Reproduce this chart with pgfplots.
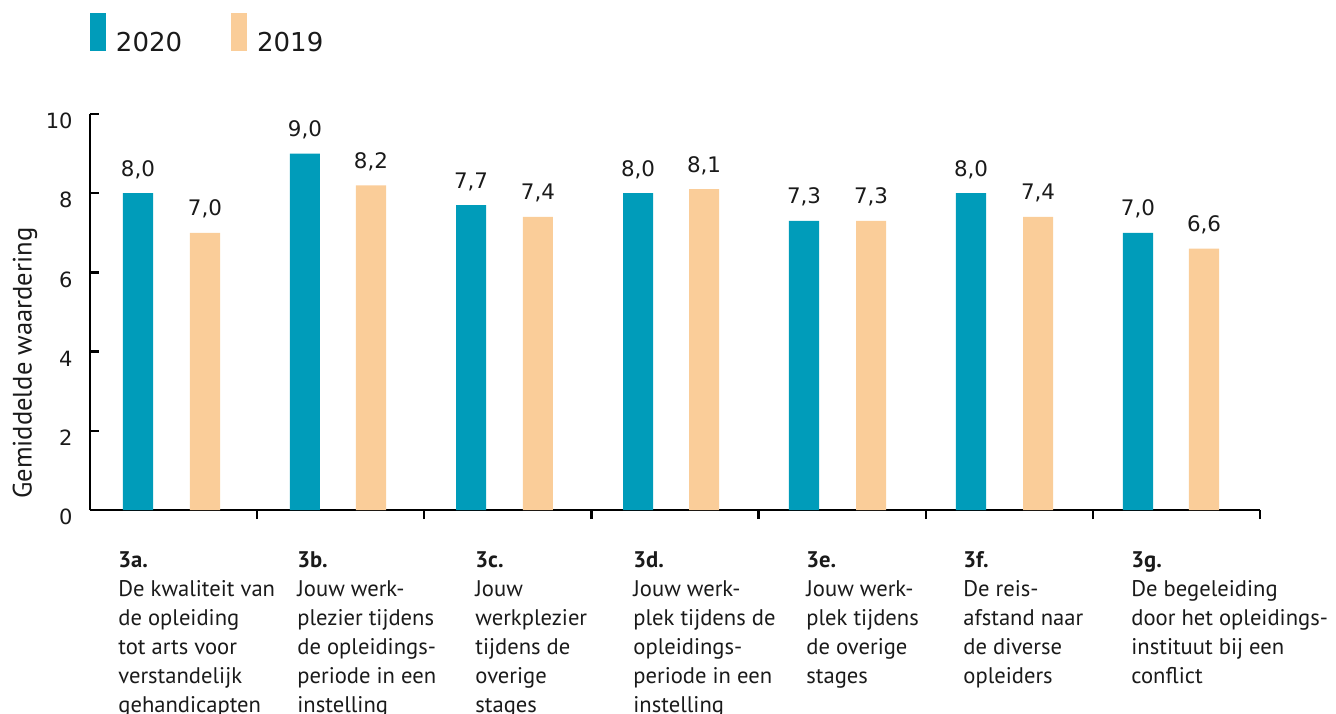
\documentclass[border=0pt]{standalone}
\usepackage{pgfplots}
\pgfplotsset{compat=1.18}
\usepackage{fontspec}
\setmainfont{PT Sans}
\newfontfamily\dejavu{DejaVu Sans}
\definecolor{c20}{RGB}{0,156,186}
\definecolor{c19}{RGB}{250,205,153}
\definecolor{txt}{RGB}{26,26,26}
\begin{document}
\begin{tikzpicture}
\begin{axis}[
  at={(0,0)}, anchor=south west,
  scale only axis, width=585pt, height=198pt,
  xmin=0, xmax=7, ymin=0, ymax=10,
  axis x line=bottom, axis y line=left,
  axis line style={line width=1.2pt, -, black},
  xtick={1,...,7}, xticklabels={},
  ytick={0,2,...,10},
  tick align=inside, major tick length=4.5pt,
  tick style={line width=1.2pt, black},
  /pgf/number format/assume math mode=true,
  yticklabel style={font=\dejavu\fontsize{10.5}{12}\selectfont, text=txt, inner sep=0pt, xshift=-8.5pt, yshift=-3.5pt},
  ylabel={Gemiddelde waardering},
  ylabel style={at={(axis description cs:-0.0556,0.371)}, anchor=center, font=\fontsize{13.3}{15}\selectfont, text=txt},
  ybar, bar width=0.18, bar shift=0pt,
  nodes near coords={\pgfmathprintnumber[fixed,fixed zerofill,precision=1,use comma]{\pgfplotspointmeta}},
  every node near coord/.append style={font=\dejavu\fontsize{10.7}{12}\selectfont, text=txt, anchor=base, inner sep=0pt, yshift=8.5pt},
  legend style={draw=none, fill=none, at={(axis description cs:0,1)}, anchor=south west, yshift=30pt, inner sep=0pt, outer sep=0pt, legend columns=2, font=\dejavu\fontsize{13}{15}\selectfont, text=txt, nodes={inner sep=0pt, anchor=base west}, /tikz/every even column/.append style={column sep=24.5pt}, /tikz/every odd column/.append style={column sep=5pt}},
  clip=false,
]
\addplot[fill=c20, draw=none, legend image code/.code={\fill[c20] (0pt,0pt) rectangle (8pt,19pt);}] coordinates {
  (0.287,8.0) (1.286,9.0) (2.280,7.7) (3.279,8.0) (4.272,7.3) (5.271,8.0) (6.270,7.0)};
\addplot[fill=c19, draw=none, legend image code/.code={\fill[c19] (0pt,0pt) rectangle (8pt,19pt);}] coordinates {
  (0.688,7.0) (1.681,8.2) (2.680,7.4) (3.674,8.1) (4.673,7.3) (5.672,7.4) (6.665,6.6)};
\legend{2020,2019}
\begin{scope}[every node/.style={anchor=north west, align=left, inner sep=0pt, yshift=-20.5pt, font=\fontsize{11.3}{14.5}\selectfont, text=txt}]
\node at (axis cs:0.1675,0) {\textbf{3a.}\\De kwaliteit van\\de opleiding\\tot arts voor\\verstandelijk\\gehandicapten};
\node at (axis cs:1.2385,0) {\textbf{3b.}\\Jouw werk-\\plezier tijdens\\de opleidings-\\periode in een\\instelling};
\node at (axis cs:2.3035,0) {\textbf{3c.}\\Jouw\\werkplezier\\tijdens de\\overige\\stages};
\node at (axis cs:3.2488,0) {\textbf{3d.}\\Jouw werk-\\plek tijdens de\\opleidings-\\periode in een\\instelling};
\node at (axis cs:4.2838,0) {\textbf{3e.}\\Jouw werk-\\plek tijdens\\de overige\\stages};
\node at (axis cs:5.2232,0) {\textbf{3f.}\\De reis-\\afstand naar\\de diverse\\opleiders};
\node at (axis cs:6.2283,0) {\textbf{3g.}\\De begeleiding\\door het opleidings-\\instituut bij een\\conflict};
\end{scope}
\end{axis}
\pgfresetboundingbox
\path[use as bounding box] (-45pt,-101.5pt) rectangle (623pt,255pt);
\end{tikzpicture}
\end{document}
